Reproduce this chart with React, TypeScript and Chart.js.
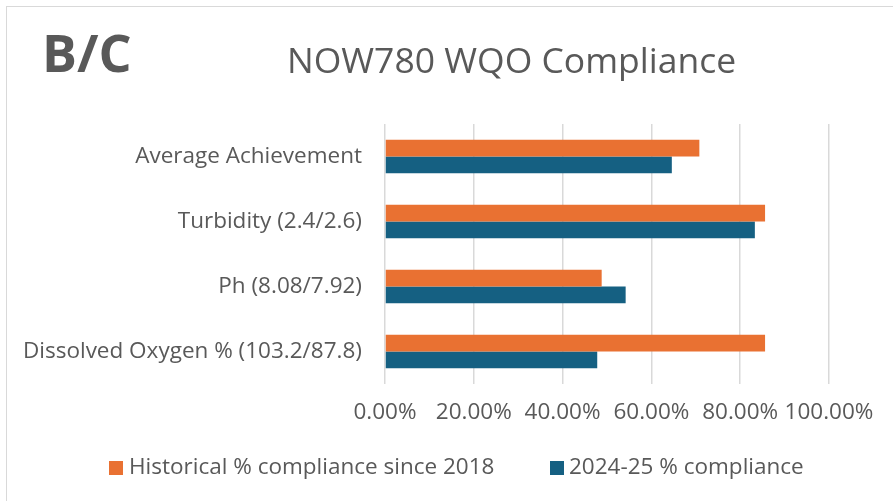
import React, { useEffect, useRef } from "react";
import { Chart, registerables } from "chart.js";

Chart.register(...registerables);

const categories = [
  "Average Achievement",
  "Turbidity (2.4/2.6)",
  "Ph (8.08/7.92)",
  "Dissolved Oxygen % (103.2/87.8)",
];
const historicalLabel = "Historical % compliance since 2018";
const currentLabel = "2024-25 % compliance";
const historicalValues = [70.8, 85.6, 48.8, 85.6];
const currentValues = [64.6, 83.3, 54.2, 47.8];
const xTicks = [0, 20, 40, 60, 80, 100];

const FONT = "'Open Sans', sans-serif";
const TEXT = "#595959";
const FS = 22.5;
const ORANGE = "#E97132";
const BLUE = "#156082";

export default function App() {
  const ref = useRef<HTMLCanvasElement>(null);
  useEffect(() => {
    document.body.style.margin = "0";
    document.body.style.overflow = "hidden";
    const chart = new Chart(ref.current!, {
      type: "bar",
      data: {
        labels: categories,
        datasets: [
          {
            label: historicalLabel,
            data: historicalValues,
            backgroundColor: ORANGE,
            barPercentage: 1,
            categoryPercentage: 0.513,
          },
          {
            label: currentLabel,
            data: currentValues,
            backgroundColor: BLUE,
            barPercentage: 1,
            categoryPercentage: 0.513,
          },
        ],
      },
      options: {
        indexAxis: "y",
        animation: false,
        responsive: true,
        maintainAspectRatio: false,
        layout: { padding: { top: 124, right: 64, bottom: 60, left: 0 } },
        scales: {
          x: {
            min: 0,
            max: 100,
            afterBuildTicks: (s: any) => {
              s.ticks = xTicks.map((v) => ({ value: v }));
            },
            grid: { color: "#d9d9d9", lineWidth: 1.5, drawTicks: false },
            border: { display: false },
            ticks: {
              padding: 15,
              maxRotation: 0,
              autoSkip: false,
              color: TEXT,
              font: { family: FONT, size: FS },
              callback: (v: any) => Number(v).toFixed(2) + "%",
            },
          },
          y: {
            afterFit: (s: any) => {
              s.width = 385;
            },
            grid: { display: false, drawTicks: false },
            border: { display: false },
            ticks: {
              padding: 23,
              color: TEXT,
              font: { family: FONT, size: FS },
            },
          },
        },
        plugins: {
          legend: { display: false },
          tooltip: { enabled: false },
        },
      },
    });
    return () => chart.destroy();
  }, []);

  const legendText: React.CSSProperties = {
    position: "absolute",
    top: 451,
    fontFamily: FONT,
    fontSize: FS,
    lineHeight: "30px",
    color: TEXT,
    whiteSpace: "nowrap",
  };
  const box: React.CSSProperties = { position: "absolute", top: 461, width: 14, height: 14 };

  return (
    <div style={{ position: "relative", width: 893, height: 501, overflow: "hidden", background: "#fff" }}>
      <div
        style={{
          position: "absolute",
          left: 6,
          top: 6,
          width: 920,
          height: 520,
          border: "1.5px solid #d9d9d9",
          boxSizing: "border-box",
        }}
      />
      <canvas ref={ref} style={{ position: "absolute", left: 0, top: 0 }} />
      <div
        style={{
          position: "absolute",
          left: 42,
          top: 22,
          fontFamily: FONT,
          fontWeight: 700,
          fontSize: 52,
          color: TEXT,
          lineHeight: "60px",
          whiteSpace: "nowrap",
        }}
      >
        B/C
      </div>
      <div
        style={{
          position: "absolute",
          left: 287,
          top: 37,
          fontFamily: FONT,
          fontSize: 35.5,
          color: TEXT,
          lineHeight: "44px",
          whiteSpace: "nowrap",
        }}
      >
        NOW780 WQO Compliance
      </div>
      <div style={{ ...box, left: 109, background: ORANGE }} />
      <div style={{ ...legendText, left: 129 }}>{historicalLabel}</div>
      <div style={{ ...box, left: 550, background: BLUE }} />
      <div style={{ ...legendText, left: 569 }}>{currentLabel}</div>
    </div>
  );
}
